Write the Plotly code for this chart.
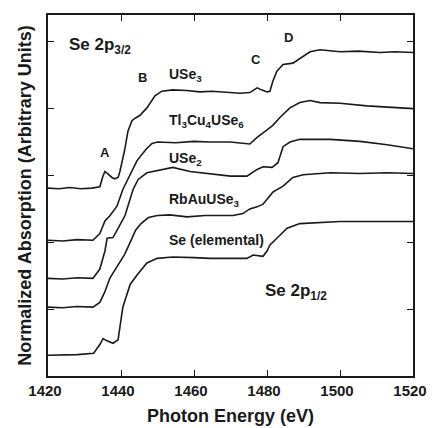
import plotly.graph_objects as go

# ---- data (photon energy in eV, normalized absorption, offset) ----
use3_e = [1420, 1423, 1426, 1429, 1432, 1434.2, 1435.0, 1435.6, 1436.5, 1437.5, 1438.3, 1439.2, 1439.7, 1440.5,
          1441.0, 1441.9, 1443.0, 1444.0, 1445.2, 1447.1, 1449.3, 1451.2, 1454.2, 1458.0, 1461.6, 1465.0, 1468.0,
          1472.6, 1475.3, 1476.3, 1477.3, 1478.5, 1480.0, 1480.8, 1481.6, 1482.7, 1484.4, 1487.1, 1489.0, 1491.8,
          1494.5, 1500.0, 1505.0, 1511.0, 1515.0, 1520.0]
use3_y = [2.81, 2.80, 2.82, 2.80, 2.81, 2.83, 2.98, 3.06, 3.02, 2.97, 2.95, 2.97, 3.06, 3.24,
          3.38, 3.66, 3.82, 3.86, 3.90, 4.01, 4.19, 4.26, 4.28, 4.27, 4.25, 4.26, 4.25,
          4.23, 4.24, 4.28, 4.31, 4.28, 4.25, 4.26, 4.41, 4.56, 4.66, 4.68, 4.75, 4.85,
          4.88, 4.85, 4.86, 4.84, 4.85, 4.84]

tl_e = [1420, 1424, 1428, 1432.3, 1434.2, 1435.6, 1437.0, 1438.9, 1440.5, 1442.5, 1444.4, 1445.5, 1447.0,
        1448.5, 1450.0, 1455.0, 1460.0, 1464.0, 1469.9, 1475.3, 1477.3, 1480.0, 1481.6, 1483.6, 1486.3,
        1489.0, 1491.8, 1494.5, 1500.0, 1507.4, 1514.0, 1520.0]
tl_y = [2.03, 2.02, 2.04, 2.03, 2.13, 2.32, 2.40, 2.54, 2.79, 3.02, 3.22, 3.30, 3.40,
        3.48, 3.50, 3.49, 3.51, 3.50, 3.50, 3.47, 3.57, 3.68, 3.75, 3.87, 4.01,
        4.09, 4.12, 4.09, 4.08, 4.04, 4.02, 4.00]

use2_e = [1420, 1424, 1428, 1432.3, 1434.2, 1435.6, 1436.2, 1437.8, 1439.2, 1441.1, 1443.3, 1444.7, 1447.1,
          1449.5, 1452.6, 1454.2, 1458.9, 1462.5, 1467.1, 1470.0, 1474.5, 1477.3, 1478.9, 1481.4, 1483.0,
          1484.4, 1486.3, 1489.0, 1497.3, 1505.5, 1512.9, 1520.0]
use2_y = [1.46, 1.45, 1.47, 1.46, 1.60, 1.87, 2.06, 2.07, 2.21, 2.40, 2.79, 2.94, 3.04,
          3.07, 3.10, 3.12, 3.06, 3.04, 3.01, 2.99, 2.99, 3.09, 3.13, 3.12, 3.19,
          3.43, 3.50, 3.54, 3.54, 3.51, 3.46, 3.40]

rb_e = [1420, 1424, 1428, 1432.3, 1434.2, 1435.5, 1437.0, 1439.0, 1441.0, 1442.5, 1444.0, 1445.5, 1447.5,
        1450.0, 1453.4, 1458.1, 1463.0, 1467.1, 1470.7, 1473.4, 1475.3, 1477.3, 1478.9, 1481.6, 1484.4,
        1487.1, 1489.9, 1497.3, 1505.5, 1512.9, 1520.0]
rb_y = [1.03, 1.02, 1.04, 1.03, 1.10, 1.25, 1.47, 1.65, 1.82, 2.00, 2.18, 2.28, 2.37,
        2.40, 2.41, 2.38, 2.40, 2.40, 2.40, 2.43, 2.50, 2.53, 2.57, 2.75, 2.84,
        2.97, 3.01, 3.04, 3.03, 3.04, 3.03]

se_e = [1420, 1424, 1428, 1432.5, 1434.2, 1435.1, 1436.0, 1437.8, 1439.2, 1440.5, 1442.5, 1444.4, 1447.1,
        1449.9, 1454.2, 1460.0, 1464.4, 1469.9, 1474.5, 1476.2, 1478.9, 1480.0, 1480.8, 1482.7, 1485.5,
        1489.0, 1493.7, 1500.0, 1510.0, 1520.0]
se_y = [0.31, 0.31, 0.32, 0.34, 0.47, 0.56, 0.53, 0.49, 0.54, 1.03, 1.37, 1.51, 1.69,
        1.76, 1.78, 1.77, 1.76, 1.76, 1.76, 1.81, 1.79, 1.87, 1.96, 2.06, 2.21,
        2.28, 2.29, 2.31, 2.31, 2.31]

x_ticks = [1420, 1440, 1460, 1480, 1500, 1520]
y_ticks = [0, 1, 2, 3, 4, 5]

series = [
    ("USe3", use3_e, use3_y),
    ("Tl3Cu4USe6", tl_e, tl_y),
    ("USe2", use2_e, use2_y),
    ("RbAuUSe3", rb_e, rb_y),
    ("Se", se_e, se_y),
]

fig = go.Figure()
for name, xs, ys in series:
    assert len(xs) == len(ys), name
    fig.add_trace(go.Scatter(x=xs, y=ys, mode="lines", name=name,
                             line=dict(color="#1a1a1a", width=1.6), showlegend=False))

FONT = "Liberation Sans, Arial, sans-serif"

labels = [
    ("Se 2p<sub>3/2</sub>", 1434.2, 4.93, 17, "center"),
    ("A", 1435.6, 3.34, 13, "center"),
    ("B", 1446.0, 4.46, 13, "center"),
    ("C", 1477.0, 4.74, 13, "center"),
    ("D", 1485.8, 5.07, 13, "center"),
    ("USe<sub>3</sub>", 1452.6, 4.50, 14, "left"),
    ("Tl<sub>3</sub>Cu<sub>4</sub>USe<sub>6</sub>", 1452.6, 3.82, 14, "left"),
    ("USe<sub>2</sub>", 1452.6, 3.25, 14, "left"),
    ("RbAuUSe<sub>3</sub>", 1452.6, 2.63, 14, "left"),
    ("Se (elemental)", 1452.6, 2.03, 14, "left"),
    ("Se 2p<sub>1/2</sub>", 1478.9, 1.25, 17, "left"),
]
for txt, x, y, size, anchor in labels:
    fig.add_annotation(x=x, y=y, xref="x", yref="y", text="<b>" + txt + "</b>", showarrow=False,
                       xanchor=anchor, yanchor="middle",
                       font=dict(family=FONT, size=size, color="#1a1a1a"))

axis_common = dict(showline=True, linecolor="#1a1a1a", linewidth=1.5, mirror="ticks",
                   ticks="inside", ticklen=6, tickwidth=1.2, tickcolor="#1a1a1a",
                   showgrid=False, zeroline=False)

fig.update_xaxes(range=[1420, 1520], tickvals=x_ticks, ticktext=[str(v) for v in x_ticks],
                 tickfont=dict(family=FONT, size=15, color="#1a1a1a", weight="bold"),
                 ticklabelshift=-3,
                 title=dict(text="Photon Energy (eV)", standoff=12,
                            font=dict(family=FONT, size=18, color="#1a1a1a", weight="bold")),
                 **axis_common)
fig.update_yaxes(range=[0, 5.4], tickvals=y_ticks, showticklabels=False,
                 title=dict(text="Normalized Absorption (Arbitrary Units)", standoff=10,
                            font=dict(family=FONT, size=18, color="#1a1a1a", weight="bold")),
                 **axis_common)

# the page keeps its 8px body margin; plot area placed to match the reference frame
fig.update_layout(width=427, height=420, margin=dict(l=40, r=22, t=5, b=49),
                  paper_bgcolor="white", plot_bgcolor="white")

fig.write_html("out.html",
               post_script="document.documentElement.style.overflow='hidden';"
                           "document.body.style.overflow='hidden';")
